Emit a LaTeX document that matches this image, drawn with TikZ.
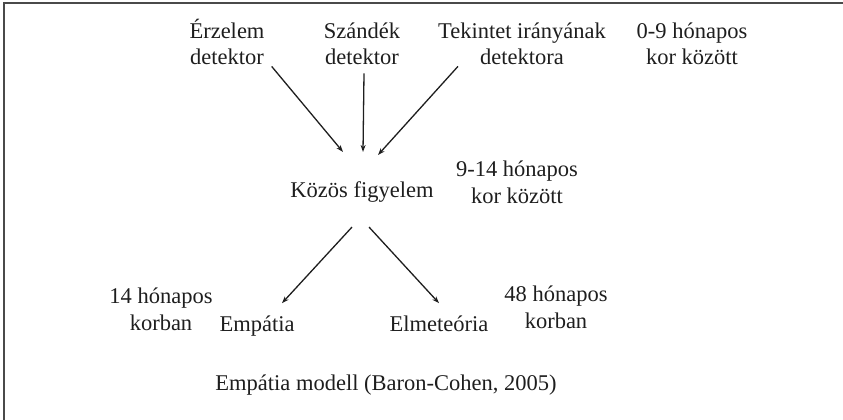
\documentclass[tikz,border=0pt]{standalone}
\usepackage{fontspec}
\setmainfont{Liberation Serif}
\usetikzlibrary{arrows.meta}
\definecolor{ink}{HTML}{1E1E1E}
\definecolor{frame}{HTML}{4A4A4A}
\tikzset{
  lbl/.style={inner sep=0pt, align=center, text=ink, anchor=base,
    font=\fontsize{22.5}{26.5}\selectfont},
  arr/.style={draw=ink, line width=1.3pt, -{Stealth[length=7pt,width=5pt]}},
}
\begin{document}
\begin{tikzpicture}[x=1pt,y=-1pt]
\useasboundingbox (0,0) rectangle (843,420);
\draw[frame, line width=2pt] (3.5,420) -- (3.5,3.5) -- (843,3.5);

\node[lbl] (erz) at (227,65) {Érzelem\\detektor};
\node[lbl] (szd) at (362,65) {Szándék\\detektor};
\node[lbl] (tek) at (522,65) {Tekintet irányának\\detektora};
\node[lbl] (age1) at (692,65) {0-9 hónapos\\kor között};

\node[lbl] (koz) at (362,197) {Közös figyelem};
\node[lbl] (age2) at (517,203) {9-14 hónapos\\kor között};

\node[lbl] (age3) at (161,330) {14 hónapos\\korban};
\node[lbl] (emp) at (257,331) {Empátia};
\node[lbl] (elm) at (439,331) {Elmeteória};
\node[lbl] (age4) at (556,328) {48 hónapos\\korban};

\node[lbl] (cap) at (386,390) {Empátia modell (Baron-Cohen, 2005)};

\draw[arr] ([shift={(7,1)}]erz.south east) -- ([shift={(-19,-29)}]koz.north);
\draw[arr] ([shift={(2,8)}]szd.south) -- ([shift={(1,-29)}]koz.north);
\draw[arr] ([shift={(20,1)}]tek.south west) -- ([shift={(16,-26)}]koz.north);

\draw[arr] ([shift={(-10,25)}]koz.south) -- ([shift={(25,-12)}]emp.north);
\draw[arr] ([shift={(7,25)}]koz.south) -- ([shift={(0,-12)}]elm.north);
\end{tikzpicture}
\end{document}
